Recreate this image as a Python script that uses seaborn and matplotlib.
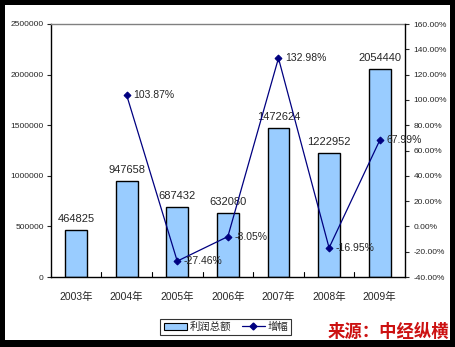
import matplotlib
matplotlib.use("Agg")
import matplotlib.pyplot as plt
import seaborn as sns
import numpy as np
from matplotlib.patches import Rectangle
from matplotlib.lines import Line2D
from matplotlib.ticker import FuncFormatter, MultipleLocator

years = ["2003年", "2004年", "2005年", "2006年", "2007年", "2008年", "2009年"]
profit = [464825, 947658, 687432, 632080, 1472624, 1222952, 2054440]
growth_years = ["2004年", "2005年", "2006年", "2007年", "2008年", "2009年"]
growth = [103.87, -27.46, -8.05, 132.98, -16.95, 67.99]
legend_labels = ["利润总额", "增幅"]
source_text = "来源：中经纵横"

sns.set_style("white")
plt.rcParams['font.family'] = ['Liberation Sans', 'Noto Sans CJK SC', 'DejaVu Sans']

fig = plt.figure(figsize=(4.56, 3.47), dpi=100, facecolor="black")
W, H = 456, 347
bg = fig.add_axes([5 / W, 1 - 340 / H, 445 / W, 335 / H], zorder=-5)
bg.set_facecolor("white")
bg.set_xticks([])
bg.set_yticks([])
for s in bg.spines.values():
    s.set_visible(False)

ax = fig.add_axes([50.7 / W, 1 - 277 / H, 354.3 / W, 253 / H])
ax.set_facecolor("none")

bar_color = "#99CCFF"
line_color = "#000080"

sns.barplot(x=years, y=profit, color=bar_color, edgecolor="black",
            linewidth=1.0, width=0.43, saturation=1, ax=ax, zorder=2)
ax.set_ylim(0, 2500000)
ax.set_xlim(-0.5, len(years) - 0.5)
ax.yaxis.set_major_locator(MultipleLocator(500000))
ax.yaxis.set_major_formatter(FuncFormatter(lambda v, p: f"{int(v)}"))
ax.tick_params(axis="y", labelsize=6, length=3, width=0.8, direction="out",
               pad=2, left=True)
ax.tick_params(axis="x", labelsize=7.5, length=0, pad=11)
ax.set_xlabel("")
ax.set_ylabel("")
for i, v in enumerate(profit):
    ax.text(i, v + 60000, f"{v}", ha="center", va="bottom", fontsize=8, zorder=5)
# category separator ticks (inside)
for k in range(1, len(years)):
    ax.plot([k - 0.5, k - 0.5], [0, 45000], color="black", lw=0.8, zorder=3,
            clip_on=False)

for s in ["left", "bottom"]:
    ax.spines[s].set_color("black")
    ax.spines[s].set_linewidth(1.0)
ax.spines["top"].set_color("#808080")
ax.spines["top"].set_linewidth(1.0)
ax.spines["right"].set_visible(False)

ax2 = ax.twinx()
gx = [years.index(y) for y in growth_years]
sns.lineplot(x=gx, y=growth, ax=ax2, color=line_color, linewidth=0.9,
             marker="D", markersize=3.5, markeredgecolor=line_color, zorder=4)
ax2.set_ylim(-40, 160)
ax2.set_xlim(-0.5, len(years) - 0.5)
ax2.yaxis.set_major_locator(MultipleLocator(20))
ax2.yaxis.set_major_formatter(FuncFormatter(lambda v, p: f"{v:.2f}%"))
ax2.tick_params(axis="y", labelsize=6, length=3, width=0.8, direction="out",
                pad=3, right=True)
ax2.set_ylabel("")
for s in ["left", "top", "bottom"]:
    ax2.spines[s].set_visible(False)
ax2.spines["right"].set_color("black")
ax2.spines["right"].set_linewidth(1.0)
for x, g in zip(gx, growth):
    ax2.text(x + 0.13, g, f"{g:.2f}%", ha="left", va="center", fontsize=7.5,
             zorder=5)

handles = [Rectangle((0, 0), 1, 1, facecolor=bar_color, edgecolor="black", lw=0.8),
           Line2D([0], [0], color=line_color, marker="D", markersize=3.5, lw=0.9)]
leg = fig.legend(handles, legend_labels, loc="center", ncol=2,
                 bbox_to_anchor=(226 / W, 1 - 327 / H), fontsize=7.5,
                 frameon=True, fancybox=False, edgecolor="black",
                 borderpad=0.3, handlelength=2.2, handletextpad=0.3,
                 columnspacing=1.0)
leg.get_frame().set_linewidth(0.8)

fig.text(449 / W, 1 - 332 / H, source_text, ha="right", va="center",
         fontsize=12.5, fontweight="bold", color="#CC1111",
         family=["Noto Sans CJK SC", "DejaVu Sans"])

fig.savefig("out.png", dpi=100, facecolor="black")
